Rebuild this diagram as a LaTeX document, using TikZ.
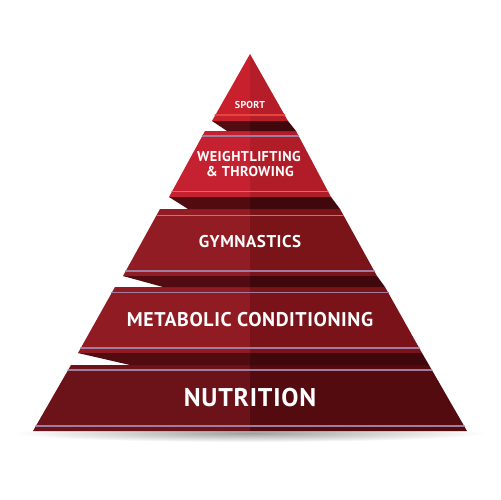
\documentclass[tikz,border=0pt]{standalone}
\usepackage{fontspec}
\setmainfont{PT Sans}[LetterSpace=3]
\usepackage{tikz}
\usetikzlibrary{calc}
\definecolor{sportL}{HTML}{C9202E}
\definecolor{sportR}{HTML}{B51D29}
\definecolor{liftL}{HTML}{C52130}
\definecolor{liftR}{HTML}{B01C28}
\definecolor{gymL}{HTML}{921C24}
\definecolor{gymR}{HTML}{7B1419}
\definecolor{metL}{HTML}{901B23}
\definecolor{metR}{HTML}{7A1319}
\definecolor{nutL}{HTML}{6C1319}
\definecolor{nutR}{HTML}{530B10}
\definecolor{shadeL}{HTML}{520B10}
\definecolor{shadeR}{HTML}{40080C}
\definecolor{stripe}{HTML}{A07C9E}
\definecolor{sportline}{HTML}{E5453D}

\begin{document}
\begin{tikzpicture}[line cap=round,line join=round,x=0.02cm,y=-0.02cm,
  stripeline/.style={line width=0.6pt,color=stripe},
  tierlabel/.style={text=white,font=\bfseries,inner sep=0pt}]
\useasboundingbox (0,0) rectangle (500,500);
% corners of the tiers
\coordinate (apex) at (250,54);
\coordinate (sbl) at (212,121); \coordinate (sbr) at (288,121);
\coordinate (wtl) at (205,131); \coordinate (wtr) at (296,131);
\coordinate (wbl) at (169,197); \coordinate (wbr) at (331,197);
\coordinate (gtl) at (160,209); \coordinate (gtr) at (340,209);
\coordinate (gbl) at (123,276); \coordinate (gbr) at (377,276);
\coordinate (mtl) at (115,287); \coordinate (mtr) at (385,287);
\coordinate (mbl) at (78,353); \coordinate (mbr) at (422,353);
\coordinate (ntl) at (71,365); \coordinate (ntr) at (429,365);
\coordinate (nbl) at (33,431); \coordinate (nbr) at (467,431);
% ground shadow
\shade[inner color=gray!75,outer color=white] (250,433) ellipse (236 and 9);
% sport
\fill[color=sportL] (apex) -- (sbl) -- (250,121) -- cycle;
\fill[color=sportR] (apex) -- (sbr) -- (250,121) -- cycle;
\draw[line width=1.2pt,color=sportline] ($(apex)!0.91!(sbl)$) -- ($(apex)!0.91!(sbr)$);
% weightlifting
\fill[color=liftL] (wtl) -- (250,131) -- (250,197) -- (wbl) -- cycle;
\fill[color=liftR] (250,131) -- (wtr) -- (wbr) -- (250,197) -- cycle;
\draw[stripeline] ($(wtl)!0.076!(wbl)$) -- ($(wtr)!0.076!(wbr)$);
\draw[stripeline] ($(wtl)!0.92!(wbl)$) -- ($(wtr)!0.92!(wbr)$);
\fill[color=shadeL] (sbl) -- (250,121) -- (250,131) -- (227,131) -- cycle;
\fill[color=shadeR] (250,121) -- (sbr) -- (wtr) -- (250,131) -- cycle;
% gymnastics
\fill[color=gymL] (gtl) -- (250,209) -- (250,276) -- (gbl) -- cycle;
\fill[color=gymR] (250,209) -- (gtr) -- (gbr) -- (250,276) -- cycle;
\draw[stripeline] ($(gtl)!0.09!(gbl)$) -- ($(gtr)!0.09!(gbr)$);
\draw[stripeline] ($(gtl)!0.925!(gbl)$) -- ($(gtr)!0.925!(gbr)$);
\fill[color=shadeL] (wbl) -- (250,197) -- (250,209) -- (188,209) -- cycle;
\fill[color=shadeR] (250,197) -- (wbr) -- (gtr) -- (250,209) -- cycle;
% metabolic conditioning
\fill[color=metL] (mtl) -- (250,287) -- (250,353) -- (mbl) -- cycle;
\fill[color=metR] (250,287) -- (mtr) -- (mbr) -- (250,353) -- cycle;
\draw[stripeline] ($(mtl)!0.09!(mbl)$) -- ($(mtr)!0.09!(mbr)$);
\draw[stripeline] ($(mtl)!0.924!(mbl)$) -- ($(mtr)!0.924!(mbr)$);
\fill[color=shadeL] (gbl) -- (250,276) -- (250,287) -- (163,287) -- cycle;
\fill[color=shadeR] (250,276) -- (gbr) -- (mtr) -- (250,287) -- cycle;
% nutrition
\fill[color=nutL] (ntl) -- (250,365) -- (250,431) -- (nbl) -- cycle;
\fill[color=nutR] (250,365) -- (ntr) -- (nbr) -- (250,431) -- cycle;
\draw[stripeline] ($(ntl)!0.076!(nbl)$) -- ($(ntr)!0.076!(nbr)$);
\draw[stripeline] ($(ntl)!0.924!(nbl)$) -- ($(ntr)!0.924!(nbr)$);
\fill[color=shadeL] (mbl) -- (250,353) -- (250,365) -- (130,365) -- cycle;
\fill[color=shadeR] (250,353) -- (mbr) -- (ntr) -- (250,365) -- cycle;
% labels
\node[tierlabel,font=\bfseries\fontsize{5.7}{6}\selectfont] (sport) at (250,104.5) {SPORT};
\node[tierlabel,font=\bfseries\fontsize{8.1}{9}\selectfont] (lift) at (249,157) {WEIGHTLIFTING};
\node[tierlabel,font=\bfseries\fontsize{8.1}{9}\selectfont] (throw) at (250,172) {\& THROWING};
\node[tierlabel,font=\bfseries\fontsize{9.7}{11}\selectfont] (gym) at (250,242) {GYMNASTICS};
\node[tierlabel,font=\bfseries\fontsize{11.3}{13}\selectfont] (metcon) at (250,320) {METABOLIC CONDITIONING};
\node[tierlabel,font=\bfseries\fontsize{14.6}{17}\selectfont] (nutrition) at (250,398) {NUTRITION};
\end{tikzpicture}
\end{document}
